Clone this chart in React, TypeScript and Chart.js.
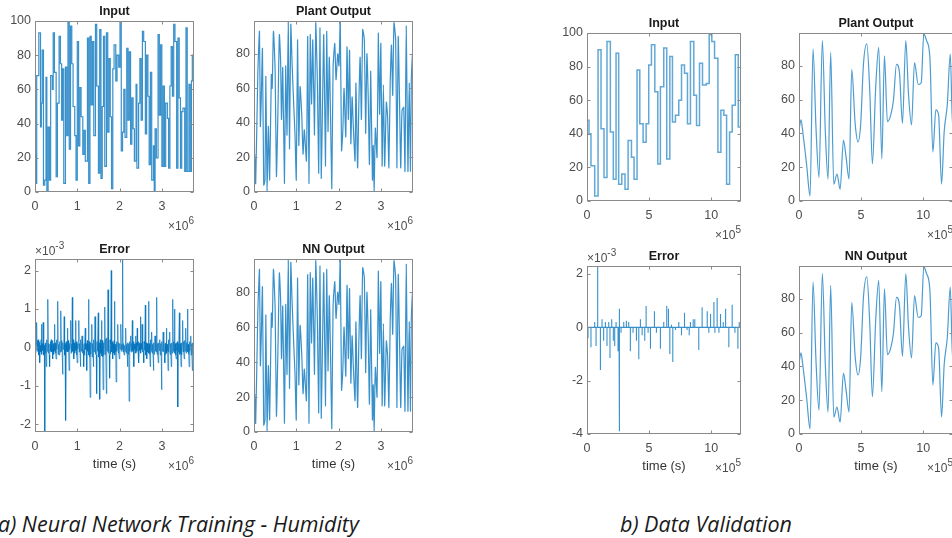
import React, { useEffect, useRef } from "react";
import { Chart, registerables } from "chart.js";

Chart.register(...registerables);

// ---------- Data (time in units of the axis multiplier) ----------
// a) Training: time ×10^6 s
const trainInT = [0, 0.02, 0.04, 0.09, 0.13, 0.15, 0.17, 0.2, 0.23, 0.26, 0.28, 0.31, 0.34, 0.37, 0.41, 0.43, 0.46, 0.5, 0.53, 0.57, 0.6, 0.63, 0.65, 0.68, 0.72, 0.75, 0.78, 0.81, 0.84, 0.87, 0.9, 0.94, 0.97, 1.0, 1.03, 1.06, 1.09, 1.13, 1.16, 1.19, 1.24, 1.27, 1.3, 1.33, 1.36, 1.39, 1.43, 1.46, 1.5, 1.53, 1.56, 1.59, 1.62, 1.65, 1.69, 1.72, 1.75, 1.78, 1.81, 1.84, 1.87, 1.91, 1.94, 1.98, 2.01, 2.04, 2.07, 2.1, 2.13, 2.17, 2.2, 2.23, 2.26, 2.29, 2.32, 2.35, 2.39, 2.41, 2.45, 2.48, 2.51, 2.54, 2.57, 2.61, 2.64, 2.67, 2.7, 2.73, 2.76, 2.8, 2.82, 2.84, 2.87, 2.91, 2.94, 2.97, 3.0, 3.03, 3.06, 3.09, 3.13, 3.16, 3.19, 3.22, 3.25, 3.28, 3.31, 3.35, 3.38, 3.41, 3.44, 3.47, 3.5, 3.54, 3.57, 3.6, 3.64, 3.67, 3.7, 3.72, 3.75, 3.76];
const trainInV = [22, 5, 68, 93, 38, 52, 83, 4, 7, 67, 0, 38, 7, 68, 60, 93, 70, 9, 52, 91, 75, 42, 72, 5, 73, 33, 99, 25, 97, 75, 50, 33, 7, 88, 27, 61, 44, 22, 36, 18, 90, 5, 91, 51, 88, 33, 98, 62, 11, 95, 8, 50, 91, 15, 93, 35, 78, 44, 2, 72, 86, 65, 80, 73, 100, 24, 35, 60, 32, 84, 42, 82, 28, 55, 37, 18, 63, 14, 52, 78, 42, 94, 88, 34, 80, 56, 16, 70, 7, 27, 0, 37, 20, 92, 45, 86, 15, 62, 15, 52, 43, 14, 62, 85, 56, 98, 88, 14, 90, 55, 14, 47, 49, 12, 96, 12, 63, 12, 65, 80, 25, 25];
const trainPlantStart = 5;
const trainEnd = 3.76;
// Error ×10^-3, evenly sampled over the training time
const trainErrV = [
  -1.0, 0.12, -0.15, 0.08, 0.65, -0.1, 0.18, -0.05, 0.2, -0.2, 0.1, 0.15, -0.4, 0.05, -0.12, 0.2,
  0.6, -0.18, 0.1, -0.08, 0.65, 0.15, -0.2, 0.05, -2.3, 0.1, -0.15, 0.12, -0.5, 0.2, -0.1, 0.05,
  1.25, -0.15, 0.1, -0.2, -0.5, 0.08, 0.15, -0.1, 0.2, -0.12, 0.05, 0.18, -0.3, 0.1, -0.18, 0.05,
  0.6, -0.1, 0.12, -0.15, -0.3, 0.2, -0.05, 0.1, 1.2, -0.18, 0.08, -0.1, -0.2, 0.15, -0.12, 0.05,
  0.95, -0.1, 0.18, -0.15, -0.7, 0.12, -0.05, 0.1, 0.8, -0.2, 0.1, -0.08, -1.9, 0.15, -0.1, 0.05,
  0.5, -0.12, 0.18, -0.1, -0.6, 0.1, -0.05, 0.15, 0.7, -0.15, 0.08, -0.12, 1.3, -0.1, 0.2, -0.05,
  -0.3, 0.12, -0.15, 0.1, 0.7, -0.08, 0.15, -0.2, -0.4, 0.1, -0.05, 0.18, 0.7, -0.12, 0.1, -0.15,
  -0.5, 0.2, -0.1, 0.05, 0.3, -0.15, 0.12, -0.08, -0.5, 0.1, -0.2, 0.15, 0.5, -0.05, 0.1, -0.12,
  -0.6, 0.18, -0.1, 0.08, 1.25, -0.2, 0.15, -0.25, -1.3, 0.12, -0.18, 0.2, 0.6, -0.25, 0.1, -0.15,
  -0.5, 0.2, -0.12, 0.08, 0.8, -0.18, 0.25, -0.2, -1.2, 0.15, -0.1, 0.22, 0.9, -0.25, 0.12, -0.18,
  -1.35, 0.2, -0.15, 0.1, 0.7, -0.22, 0.18, -0.25, -1.1, 0.12, -0.2, 0.15, 1.05, -0.18, 0.22, -0.12,
  -1.2, 0.25, -0.1, 0.18, 1.5, -0.15, 0.12, -0.2, -0.8, 0.2, -0.18, 0.1, 2.0, -0.12, 0.15, -0.08,
  -0.3, 0.1, -0.15, 0.18, 1.2, -0.2, 0.08, -0.12, -0.9, 0.15, -0.1, 0.05, 0.6, -0.08, 0.12, -0.15,
  -0.3, 0.1, -0.05, 0.12, 0.6, -0.1, 0.08, -0.05, 2.3, -0.12, 0.1, -0.08, -0.2, 0.05, -0.1, 0.12,
  0.5, -0.15, 0.08, -0.1, -0.5, 0.12, -0.18, 0.1, -1.4, 0.15, -0.1, 0.05, 0.3, -0.12, 0.1, -0.08,
  0.7, -0.1, 0.15, -0.12, -0.5, 0.08, -0.05, 0.1, 0.3, -0.15, 0.12, -0.1, 0.5, 0.05, -0.12, 0.15,
  -0.4, 0.1, -0.08, 0.12, 0.8, -0.15, 0.1, -0.05, 0.6, -0.12, 0.18, -0.1, -0.4, 0.15, -0.08, 0.1,
  1.1, -0.2, 0.12, -0.15, -0.3, 0.1, -0.12, 0.08, 1.2, -0.15, 0.1, -0.18, -0.5, 0.2, -0.1, 0.12,
  0.4, -0.15, 0.08, -0.2, -0.6, 0.12, -0.18, 0.15, 0.3, -0.1, 0.2, -0.12, 1.3, -0.18, 0.1, -0.15,
  -0.4, 0.12, -0.08, 0.18, 0.2, -0.2, 0.1, -0.12, -1.1, 0.15, -0.1, 0.08, 0.4, -0.12, 0.2, -0.15,
  -0.4, 0.1, -0.18, 0.12, 0.5, -0.15, 0.08, -0.1, -0.6, 0.2, -0.12, 0.15, 0.4, -0.18, 0.1, -0.08,
  -0.5, 0.12, -0.15, 0.1, 1.25, -0.1, 0.15, -0.12, 1.0, -0.15, 0.1, -0.2, -0.3, 0.12, -0.08, 0.15,
  -1.55, 0.1, -0.12, 0.2, 0.9, -0.18, 0.1, -0.15, -0.5, 0.12, -0.2, 0.08, 0.7, -0.1, 0.15, -0.12,
  -0.3, 0.18, -0.1, 0.05, 0.5, -0.15, 0.12, -0.1, 1.0, -0.12, 0.08, -0.18, -0.5, 0.15, -0.1, 0.12,
  0.3, -0.2, 0.1, -0.08, -0.6, 0.12, -0.15, 0.1, 0.25,
];

// b) Validation: time ×10^5 s
const valInT = [0, 0.16, 0.32, 0.62, 0.89, 1.13, 1.37, 1.61, 1.88, 2.12, 2.34, 2.55, 2.8, 3.06, 3.31, 3.58, 3.79, 4.03, 4.25, 4.52, 4.76, 4.97, 5.19, 5.46, 5.7, 5.91, 6.18, 6.42, 6.67, 6.88, 7.12, 7.39, 7.61, 7.85, 8.09, 8.33, 8.6, 8.82, 9.06, 9.3, 9.6, 9.84, 10.05, 10.27, 10.54, 10.78, 11.02, 11.24, 11.48, 11.69, 11.94, 12.18, 12.37, 12.4];
const valInV = [48, 40, 21, 3, 90, 43, 14, 95, 41, 13, 88, 10, 16, 7, 36, 26, 13, 78, 46, 35, 46, 81, 93, 65, 22, 68, 91, 25, 86, 47, 51, 60, 81, 76, 46, 95, 63, 45, 82, 69, 70, 99, 95, 85, 29, 54, 51, 10, 41, 57, 87, 44, 72, 72];
const valPlantStart = 42;
const valEnd = 12.4;
const valErrT = [0.08, 0.32, 0.62, 0.73, 0.86, 1.08, 1.21, 1.34, 1.48, 1.61, 1.75, 1.85, 1.99, 2.12, 2.23, 2.34, 2.5, 2.58, 2.63, 2.74, 2.96, 3.17, 3.36, 3.49, 3.71, 3.98, 4.17, 4.3, 4.44, 4.65, 4.76, 4.92, 5.11, 5.43, 5.59, 5.91, 6.18, 6.42, 6.56, 6.67, 6.8, 6.91, 7.12, 7.39, 7.61, 7.85, 8.06, 8.23, 8.33, 8.55, 8.68, 9.0, 9.27, 9.68, 9.81, 9.95, 10.22, 10.3, 10.48, 10.62, 10.75, 10.97, 11.16, 11.42, 11.69, 11.91, 12.15, 12.26];
const valErrV = [-0.4, -0.75, 0.2, -0.7, 2.3, -1.6, 0.3, -0.5, 0.2, -0.7, 0.2, -1.15, 0.3, -0.5, -0.7, 0.2, -0.9, 0.7, -3.9, -0.2, 0.2, 0.25, 0.2, -0.9, -0.2, -0.5, -1.2, 0.3, -0.3, -0.5, 0.8, -0.2, -0.8, 0.6, -0.2, -0.8, 0.2, 0.8, 0.7, -1.0, 0.1, -1.3, -0.1, 0.2, -0.3, 0.55, -0.1, -0.3, 0.2, 0.3, 0.3, -0.85, 0.75, 0.6, -0.2, 0.5, 0.95, -0.2, 1.1, -0.2, 0.5, 0.2, 0.7, -0.75, 0.85, -0.2, -0.8, 0.2];

const trainXTicks = [0, 1, 2, 3];
const valXTicks = [0, 5, 10];
const pctTicks = [0, 20, 40, 60, 80, 100];
const outTicks = [0, 20, 40, 60, 80];
const trainErrTicks = [-2, -1, 0, 1, 2];
const valErrTicks = [-4, -2, 0, 2];

// ---------- Builders ----------
const stepData = (t: number[], v: number[]) => t.map((x, i) => ({ x, y: v[i] }));
const outputData = (t: number[], v: number[], start: number, end: number) => {
  const pts = [{ x: 0, y: start }];
  for (let i = 0; i < v.length - 1; i++) pts.push({ x: t[i + 1], y: v[i] });
  pts.push({ x: end, y: v[v.length - 1] });
  return pts;
};
const evenData = (v: number[], end: number) => v.map((y, i) => ({ x: (i * end) / (v.length - 1), y }));
const spikeData = (t: number[], v: number[], end: number) => {
  const pts = [{ x: 0, y: 0 }];
  t.forEach((x, i) => {
    pts.push({ x, y: 0 }, { x, y: v[i] }, { x, y: 0 });
  });
  pts.push({ x: end, y: 0 });
  return pts;
};

const LINE = "rgba(0,114,189,0.78)";
const lineDs = (data: any[], extra: any = {}) => ({
  data,
  borderColor: LINE,
  borderWidth: 1.2,
  pointRadius: 0,
  fill: false,
  ...extra,
});

// ---------- Layout ----------
const AXW = 45;
const AXH = 50;
const PT = 28;
const PR = 15;
const FONT = '"Liberation Sans", Arial, sans-serif';

type Spec = {
  key: string;
  left: number;
  top: number;
  w: number;
  h: number;
  xMax: number;
  xTicks: number[];
  yMin: number;
  yMax: number;
  yTicks: number[];
  datasets: any[];
  title: string;
  xExp: string;
  yExp?: string;
  xLabel?: string;
};

const specs: Spec[] = [
  { key: "ti", left: 35, top: 21, w: 159, h: 171, xMax: trainEnd, xTicks: trainXTicks, yMin: 0, yMax: 100, yTicks: pctTicks, datasets: [lineDs(stepData(trainInT, trainInV), { stepped: true })], title: "Input", xExp: "6" },
  { key: "tp", left: 254, top: 21, w: 159, h: 171, xMax: trainEnd, xTicks: trainXTicks, yMin: 0, yMax: 99, yTicks: outTicks, datasets: [lineDs(outputData(trainInT, trainInV, trainPlantStart, trainEnd), { tension: 0.2 })], title: "Plant Output", xExp: "6" },
  { key: "te", left: 35, top: 259, w: 159, h: 173, xMax: trainEnd, xTicks: trainXTicks, yMin: -2.2, yMax: 2.3, yTicks: trainErrTicks, datasets: [lineDs(evenData(trainErrV, trainEnd), { borderWidth: 0.9 })], title: "Error", xExp: "6", yExp: "-3", xLabel: "time (s)" },
  { key: "tn", left: 254, top: 259, w: 159, h: 173, xMax: trainEnd, xTicks: trainXTicks, yMin: 0, yMax: 99, yTicks: outTicks, datasets: [lineDs(outputData(trainInT, trainInV, trainPlantStart, trainEnd), { tension: 0.2 })], title: "NN Output", xExp: "6", xLabel: "time (s)" },
  { key: "vi", left: 587, top: 33, w: 154, h: 168, xMax: valEnd, xTicks: valXTicks, yMin: 0, yMax: 100, yTicks: pctTicks, datasets: [lineDs(stepData(valInT, valInV), { stepped: true, borderWidth: 1.5, borderColor: "rgba(0,114,189,0.62)" })], title: "Input", xExp: "5" },
  { key: "vp", left: 799, top: 33, w: 154, h: 168, xMax: valEnd, xTicks: valXTicks, yMin: 0, yMax: 99.5, yTicks: outTicks, datasets: [lineDs(outputData(valInT, valInV, valPlantStart, valEnd), { cubicInterpolationMode: "monotone", borderColor: "rgba(0,114,189,0.7)" })], title: "Plant Output", xExp: "5" },
  { key: "ve", left: 587, top: 266, w: 154, h: 168, xMax: valEnd, xTicks: valXTicks, yMin: -4, yMax: 2.3, yTicks: valErrTicks, datasets: [lineDs(spikeData(valErrT, valErrV, valEnd), { borderWidth: 1.1 })], title: "Error", xExp: "5", yExp: "-3", xLabel: "time (s)" },
  { key: "vn", left: 799, top: 266, w: 154, h: 168, xMax: valEnd, xTicks: valXTicks, yMin: 0, yMax: 99.5, yTicks: outTicks, datasets: [lineDs(outputData(valInT, valInV, valPlantStart, valEnd), { cubicInterpolationMode: "monotone", borderColor: "rgba(0,114,189,0.7)" })], title: "NN Output", xExp: "5", xLabel: "time (s)" },
];

// ---------- Decoration plugin (MATLAB-like box, inner ticks, titles) ----------
const drawPower = (ctx: CanvasRenderingContext2D, exp: string, x: number, y: number, align: "left" | "right") => {
  ctx.font = `12px ${FONT}`;
  const base = "\u00d710";
  const bw = ctx.measureText(base).width;
  ctx.font = `10px ${FONT}`;
  const ew = ctx.measureText(exp).width;
  const start = align === "right" ? x - bw - ew : x;
  ctx.textAlign = "left";
  ctx.font = `12px ${FONT}`;
  ctx.fillText(base, start, y);
  ctx.font = `10px ${FONT}`;
  ctx.fillText(exp, start + bw, y - 6);
};

const decor = {
  id: "decor",
  afterDraw(chart: any, _args: any, opts: any) {
    const { ctx, chartArea: a, scales } = chart;
    ctx.save();
    ctx.strokeStyle = "#8a8a8a";
    ctx.lineWidth = 1;
    const L = Math.round(a.left) + 0.5;
    const T = Math.round(a.top) + 0.5;
    const R = Math.round(a.right) - 0.5;
    const B = Math.round(a.bottom) - 0.5;
    ctx.strokeRect(L, T, R - L, B - T);
    const tl = 3;
    ctx.beginPath();
    scales.x.ticks.forEach((t: any) => {
      const px = Math.round(scales.x.getPixelForValue(t.value)) + 0.5;
      ctx.moveTo(px, B);
      ctx.lineTo(px, B - tl);
      ctx.moveTo(px, T);
      ctx.lineTo(px, T + tl);
    });
    scales.y.ticks.forEach((t: any) => {
      const py = Math.round(scales.y.getPixelForValue(t.value)) + 0.5;
      ctx.moveTo(L, py);
      ctx.lineTo(L + tl, py);
      ctx.moveTo(R, py);
      ctx.lineTo(R - tl, py);
    });
    ctx.stroke();

    ctx.fillStyle = "#1a1a1a";
    ctx.textBaseline = "alphabetic";
    ctx.textAlign = "center";
    ctx.font = `bold 12.5px ${FONT}`;
    ctx.fillText(opts.title, (a.left + a.right) / 2, a.top - 6);

    ctx.fillStyle = "#4d4d4d";
    drawPower(ctx, opts.xExp, a.right, a.bottom + 38, "right");
    if (opts.yExp) drawPower(ctx, opts.yExp, a.left, a.top - 4, "left");
    if (opts.xLabel) {
      ctx.font = `13px ${FONT}`;
      ctx.textAlign = "center";
      ctx.fillStyle = "#333333";
      ctx.fillText(opts.xLabel, (a.left + a.right) / 2, a.bottom + 36);
    }
    ctx.restore();
  },
};

function Panel({ spec }: { spec: Spec }) {
  const ref = useRef<HTMLCanvasElement>(null);
  useEffect(() => {
    if (!ref.current) return;
    const tickFont = { family: FONT, size: 12.5 };
    const chart = new Chart(ref.current, {
      type: "line",
      data: { datasets: spec.datasets },
      options: {
        animation: false,
        responsive: false,
        maintainAspectRatio: false,
        devicePixelRatio: 1,
        layout: { padding: { left: 0, right: PR, top: PT, bottom: 0 } },
        plugins: {
          legend: { display: false },
          tooltip: { enabled: false },
          decor: { title: spec.title, xExp: spec.xExp, yExp: spec.yExp, xLabel: spec.xLabel },
        } as any,
        scales: {
          x: {
            type: "linear",
            min: 0,
            max: spec.xMax,
            grid: { display: false, drawTicks: false },
            border: { display: false },
            ticks: { padding: 7, color: "#4d4d4d", font: tickFont, maxRotation: 0, autoSkip: false, callback: (v: any) => String(v) },
            afterBuildTicks: (s: any) => {
              s.ticks = spec.xTicks.map((value) => ({ value }));
            },
            afterFit: (s: any) => {
              s.height = AXH;
            },
          },
          y: {
            type: "linear",
            min: spec.yMin,
            max: spec.yMax,
            grid: { display: false, drawTicks: false },
            border: { display: false },
            ticks: { padding: 4, color: "#4d4d4d", font: tickFont, autoSkip: false, callback: (v: any) => String(v) },
            afterBuildTicks: (s: any) => {
              s.ticks = spec.yTicks.map((value) => ({ value }));
            },
            afterFit: (s: any) => {
              s.width = AXW;
            },
          },
        },
      } as any,
      plugins: [decor as any],
    });
    return () => chart.destroy();
  }, [spec]);
  return (
    <canvas
      ref={ref}
      width={spec.w + AXW + PR}
      height={spec.h + PT + AXH}
      style={{ position: "absolute", left: spec.left - AXW, top: spec.top - PT, display: "block" }}
    />
  );
}

export default function App() {
  const cap: React.CSSProperties = {
    position: "absolute",
    top: 511,
    fontFamily: '"Open Sans", sans-serif',
    fontStyle: "italic",
    fontSize: 21.5,
    lineHeight: "26px",
    color: "#1a1a1a",
    whiteSpace: "nowrap",
  };
  return (
    <div style={{ position: "fixed", left: 0, top: 0, width: 952, height: 538, overflow: "hidden", background: "#ffffff" }}>
      {specs.map((s) => (
        <Panel key={s.key} spec={s} />
      ))}
      <div style={{ ...cap, left: -2 }}>a) Neural Network Training - Humidity</div>
      <div style={{ ...cap, left: 620 }}>b) Data Validation</div>
    </div>
  );
}
